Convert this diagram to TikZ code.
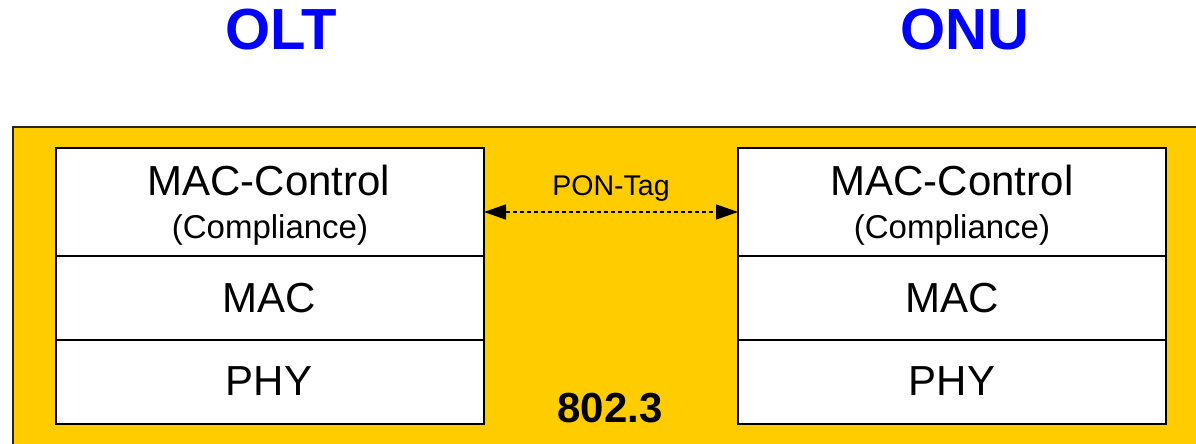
\documentclass[tikz,border=0pt]{standalone}
\usepackage{fontspec}
\setmainfont{Liberation Sans}
\usetikzlibrary{arrows.meta}
\definecolor{ieeeyellow}{HTML}{FFCC00}
\definecolor{titleblue}{HTML}{0000FF}
\begin{document}
\begin{tikzpicture}[x=1pt,y=-1pt,
  layerbox/.style={draw=black,line width=2.6pt,fill=white,inner sep=0pt,outer sep=0pt},
  titletext/.style={anchor=base,text=titleblue,font=\fontsize{58}{62}\selectfont\bfseries,inner sep=0pt},
  bigtext/.style={anchor=base,font=\fontsize{42}{46}\selectfont,inner sep=0pt},
  smalltext/.style={anchor=base,font=\fontsize{33}{38}\selectfont,inner sep=0pt},
  tagtext/.style={anchor=base,font=\fontsize{28.5}{32}\selectfont,inner sep=0pt},
  stdtext/.style={anchor=base,font=\fontsize{42}{46}\selectfont\bfseries,inner sep=0pt},
  ponarrow/.style={line width=1.6pt,dash pattern=on 4pt off 3pt,
    {Triangle[length=22pt,width=15pt]}-{Triangle[length=22pt,width=15pt]}}]
\useasboundingbox (0,0) rectangle (1196,444);
\clip (0,0) rectangle (1196,444);

% 802.3 background panel
\draw[fill=ieeeyellow,draw=black!85,line width=2pt] (13,127) rectangle (1230,480);

% titles
\node[titletext] (olt) at (281.5,50) {OLT};
\node[titletext] (onu) at (965,50) {ONU};

% OLT layer stack
\draw[layerbox] (56,148) rectangle (484,256) node[pos=0.5,inner sep=0pt] (ltop) {};
\draw[layerbox] (56,256) rectangle (484,340) node[pos=0.5,inner sep=0pt] (lmac) {};
\draw[layerbox] (56,340) rectangle (484,424) node[pos=0.5,inner sep=0pt] (lphy) {};
\coordinate (ltopE) at (484,212);

% ONU layer stack
\draw[layerbox] (738,148) rectangle (1166,256) node[pos=0.5,inner sep=0pt] (rtop) {};
\draw[layerbox] (738,256) rectangle (1166,340) node[pos=0.5,inner sep=0pt] (rmac) {};
\draw[layerbox] (738,340) rectangle (1166,424) node[pos=0.5,inner sep=0pt] (rphy) {};
\coordinate (rtopW) at (738,212);

% layer labels
\node[bigtext] (lctl) at (269,195) {MAC-Control};
\node[smalltext] (lcomp) at (270,238) {(Compliance)};
\node[bigtext] (lmact) at (269,312) {MAC};
\node[bigtext] (lphyt) at (269,395) {PHY};

\node[bigtext] (rctl) at (952,195) {MAC-Control};
\node[smalltext] (rcomp) at (952,238) {(Compliance)};
\node[bigtext] (rmact) at (952,312) {MAC};
\node[bigtext] (rphyt) at (952,395) {PHY};

% PON-Tag link between the MAC-Control layers
\draw[ponarrow] (ltopE) -- (rtopW);
\node[tagtext] (tag) at (611,195) {PON-Tag};

% standard label
\node[stdtext] (std) at (610,422) {802.3};
\end{tikzpicture}
\end{document}
